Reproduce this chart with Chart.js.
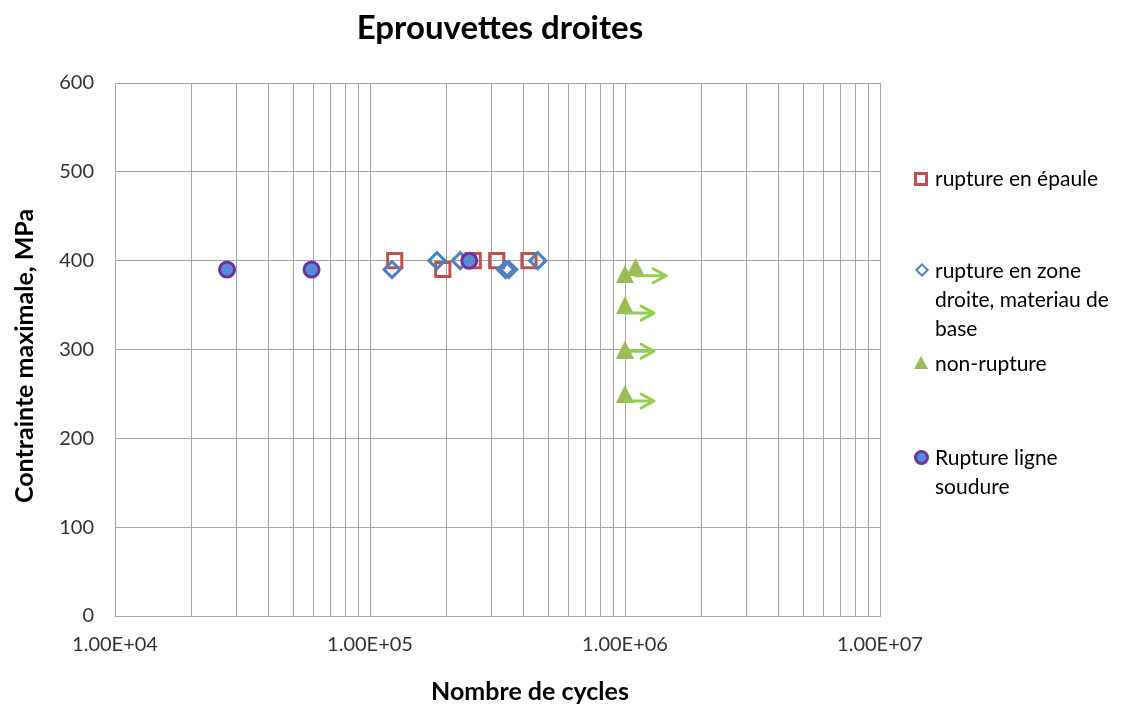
<!DOCTYPE html>
<html>
<head>
<meta charset="utf-8">
<script src="https://cdn.jsdelivr.net/npm/chart.js@4"></script>
<style>
  body { margin: 0; background: #fff; font-family: Lato, sans-serif; }
  #wrap { position: relative; width: 1134px; height: 709px; overflow: hidden; }
  #title { position: absolute; left: 0; top: 6px; width: 1000px; text-align: center; font-weight: bold; font-size: 33px; line-height: 40px; color: #000; }
  #xtitle { position: absolute; left: 330px; top: 675px; width: 400px; text-align: center; font-weight: bold; font-size: 25px; line-height: 30px; color: #000; }
  #ytitle { position: absolute; left: -177px; top: 341px; width: 400px; height: 30px; text-align: center; font-weight: bold; font-size: 25px; line-height: 30px; color: #000; transform: rotate(-90deg); }
  .lg { position: absolute; left: 935px; font-size: 21px; line-height: 29px; color: #000; white-space: nowrap; }
  .mk { position: absolute; box-sizing: border-box; }
</style>
</head>
<body>
<div id="wrap">
  <canvas id="chart" width="1134" height="709"></canvas>
  <div id="title">Eprouvettes droites</div>
  <div id="xtitle">Nombre de cycles</div>
  <div id="ytitle">Contrainte maximale, MPa</div>

  <div class="mk" style="left:914px; top:172px; width:14px; height:14px; border:3px solid #c0504d;"></div>
  <div class="lg" style="top:163px;">rupture en épaule</div>

  <div class="mk" style="left:917px; top:265px; width:10px; height:10px; border:2px solid #4f81bd; transform:rotate(45deg);"></div>
  <div class="lg" style="top:255px;">rupture en zone<br>droite, materiau de<br>base</div>

  <div class="mk" style="left:914px; top:356px; width:0; height:0; border-left:7px solid transparent; border-right:7px solid transparent; border-bottom:13px solid #9bbb59;"></div>
  <div class="lg" style="top:348px;">non-rupture</div>

  <div class="mk" style="left:914px; top:450px; width:15px; height:15px; border-radius:50%; background:#558ed5; border:3px solid #7030a0;"></div>
  <div class="lg" style="top:442px;">Rupture ligne<br>soudure</div>
</div>
<script>
// rupture en épaule (red squares)
const epauleX = [1.25e5, 1.93e5, 2.54e5, 3.14e5, 4.2e5];
const epauleY = [400, 390, 400, 400, 400];
// rupture en zone droite, materiau de base (blue diamonds)
const zoneX = [1.22e5, 1.83e5, 2.26e5, 3.4e5, 3.5e5, 4.55e5];
const zoneY = [390, 400, 400, 390, 390, 400];
// non-rupture (green triangles)
const nonRuptX = [1.0e6, 1.1e6, 1.0e6, 1.0e6, 1.0e6];
const nonRuptY = [385, 393, 350, 300, 250];
// Rupture ligne soudure (circles)
const soudureX = [2.75e4, 5.9e4, 2.45e5];
const soudureY = [390, 390, 400];
// run-out arrows
const arrowFromX = [1.1e6, 1.0e6, 1.0e6, 1.0e6];
const arrowToX = [1.45e6, 1.3e6, 1.3e6, 1.3e6];
const arrowY = [383, 341, 298, 242];

const xMin = 1e4, xMax = 1e7;
const yMin = 0, yMax = 600, yStep = 100;

const toPoints = (xs, ys) => xs.map((x, i) => ({ x: x, y: ys[i] }));

// triangle drawn centered on its bounding box like Excel does
function triangleImg(w, h, color) {
  const c = document.createElement("canvas");
  c.width = w; c.height = h;
  const g = c.getContext("2d");
  g.fillStyle = color;
  g.beginPath();
  g.moveTo(w / 2, 0);
  g.lineTo(w, h);
  g.lineTo(0, h);
  g.closePath();
  g.fill();
  return c;
}

const arrowPlugin = {
  id: "arrows",
  afterDatasetsDraw(chart) {
    const { ctx, scales } = chart;
    ctx.save();
    ctx.strokeStyle = "#92d050";
    ctx.lineWidth = 3;
    ctx.lineCap = "round";
    ctx.lineJoin = "round";
    arrowY.forEach((v, i) => {
      const x0 = scales.x.getPixelForValue(arrowFromX[i]);
      const x1 = scales.x.getPixelForValue(arrowToX[i]);
      const y = scales.y.getPixelForValue(v);
      ctx.beginPath();
      ctx.moveTo(x0, y);
      ctx.lineTo(x1, y);
      ctx.moveTo(x1 - 13, y - 7);
      ctx.lineTo(x1, y);
      ctx.lineTo(x1 - 13, y + 7);
      ctx.stroke();
    });
    ctx.restore();
  },
};

const gridColor = "#a6a6a6";

new Chart(document.getElementById("chart"), {
  type: "scatter",
  data: {
    datasets: [
      {
        label: "rupture en épaule",
        data: toPoints(epauleX, epauleY),
        pointStyle: "rect",
        radius: 10,
        borderWidth: 3,
        borderColor: "#c0504d",
        backgroundColor: "rgba(0,0,0,0)",
        order: 3,
      },
      {
        label: "rupture en zone droite, materiau de base",
        data: toPoints(zoneX, zoneY),
        pointStyle: "rectRot",
        radius: 8,
        borderWidth: 3,
        borderColor: "#4f81bd",
        backgroundColor: "rgba(0,0,0,0)",
        order: 2,
      },
      {
        label: "non-rupture",
        data: toPoints(nonRuptX, nonRuptY),
        pointStyle: triangleImg(18, 18, "#9bbb59"),
        order: 1,
      },
      {
        label: "Rupture ligne soudure",
        data: toPoints(soudureX, soudureY),
        pointStyle: "circle",
        radius: 7.5,
        borderWidth: 3,
        borderColor: "#7030a0",
        backgroundColor: "#558ed5",
        order: 0,
      },
    ],
  },
  options: {
    responsive: false,
    animation: false,
    events: [],
    layout: { padding: { top: 83, right: 254, left: 0, bottom: 0 } },
    plugins: {
      legend: { display: false },
      tooltip: { enabled: false },
    },
    scales: {
      x: {
        type: "logarithmic",
        min: xMin,
        max: xMax,
        afterFit: (scale) => { scale.height = 93; },
        afterBuildTicks: (scale) => {
          // keep only 1..9 x 10^n grid lines
          scale.ticks = scale.ticks.filter((t) => {
            const m = t.value / Math.pow(10, Math.floor(Math.log10(t.value) + 1e-9));
            return Math.abs(m - Math.round(m)) < 1e-6;
          });
        },
        grid: { color: gridColor, drawTicks: false },
        border: { color: gridColor },
        ticks: {
          autoSkip: false,
          maxRotation: 0,
          padding: 17,
          color: "#333",
          font: { family: "Lato", size: 20 },
          callback: (v) => {
            const e = Math.log10(v);
            if (Math.abs(e - Math.round(e)) < 1e-9) {
              return "1.00E+" + String(Math.round(e)).padStart(2, "0");
            }
            return "";
          },
        },
      },
      y: {
        min: yMin,
        max: yMax,
        afterFit: (scale) => { scale.width = 115; },
        grid: { color: gridColor, drawTicks: false },
        border: { color: gridColor },
        ticks: {
          stepSize: yStep,
          padding: 21,
          color: "#333",
          font: { family: "Lato", size: 20 },
        },
      },
    },
  },
  plugins: [arrowPlugin],
});
</script>
</body>
</html>
